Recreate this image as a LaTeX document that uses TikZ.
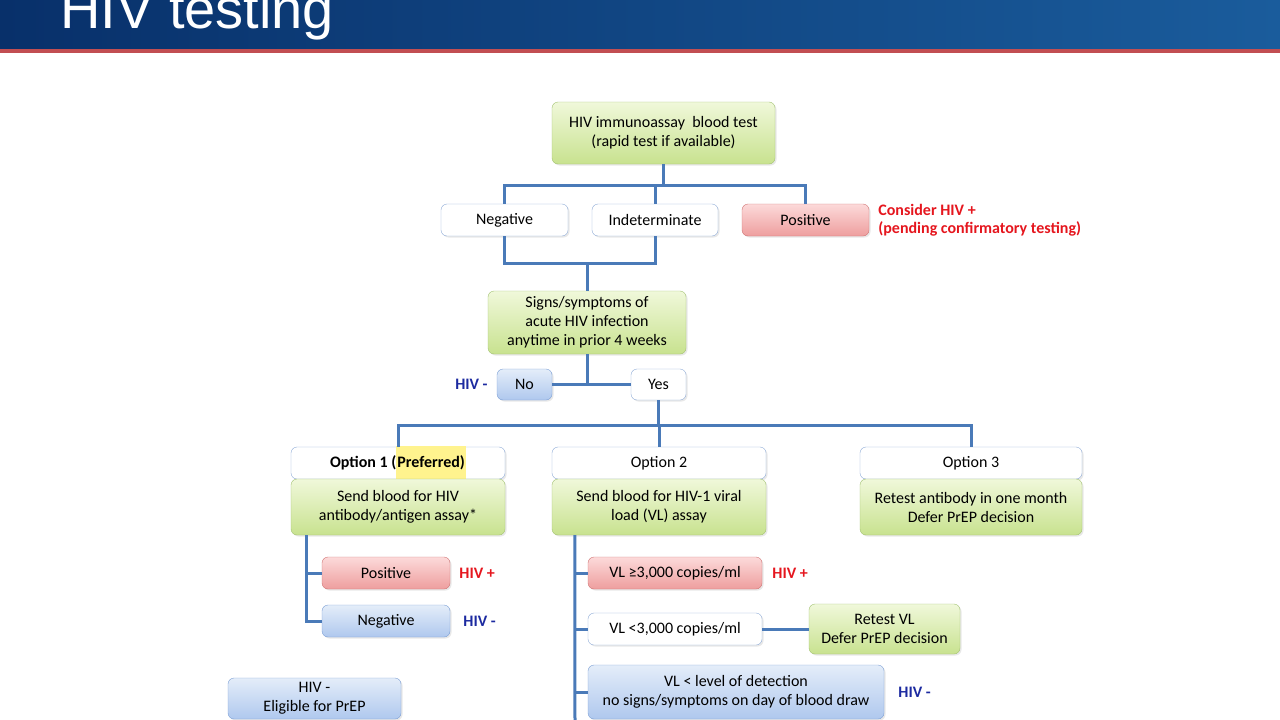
\documentclass[tikz,border=0pt]{standalone}
\usepackage{fontspec}
\setmainfont{Carlito}
\newfontfamily\titlefont{Liberation Sans}
\usetikzlibrary{shadows,positioning}

% Define colors
\definecolor{barleft}{HTML}{08306A}
\definecolor{barright}{HTML}{1A5C9C}
\definecolor{barred}{HTML}{C24E52}
\definecolor{linkblue}{HTML}{4A7AB8}
\definecolor{greenline}{HTML}{A3C273}
\definecolor{greentop}{HTML}{F0F8DA}
\definecolor{greenbot}{HTML}{C8E28F}
\definecolor{redline}{HTML}{CF7474}
\definecolor{redtop}{HTML}{FCDADA}
\definecolor{redbot}{HTML}{EE9E9E}
\definecolor{blueline}{HTML}{7C9FD5}
\definecolor{bluetop}{HTML}{E4EDF9}
\definecolor{bluebot}{HTML}{AFC8EE}
\definecolor{whiteline}{HTML}{8EABD6}
\definecolor{hivred}{HTML}{E5161E}
\definecolor{hivblue}{HTML}{1C2AA0}
\definecolor{hlyellow}{HTML}{FFF38E}

\tikzset{
  box/.style={rounded corners=6pt, inner sep=0pt, align=center, minimum height=32pt,
    font=\fontsize{16}{19}\selectfont,
    drop shadow={shadow xshift=1.5pt, shadow yshift=-1.5pt, opacity=0.18}},
  greenbox/.style={box, draw=greenline, top color=greentop, bottom color=greenbot},
  redbox/.style={box, draw=redline, top color=redtop, bottom color=redbot},
  bluebox/.style={box, draw=blueline, top color=bluetop, bottom color=bluebot},
  whitebox/.style={box, draw=whiteline, fill=white},
  link/.style={draw=linkblue, line width=3pt},
  hivpos/.style={font=\bfseries\fontsize{16}{18}\selectfont, text=hivred, align=left, inner sep=0pt},
  hivneg/.style={font=\bfseries\fontsize{16}{18}\selectfont, text=hivblue, inner sep=0pt},
}

\newcommand\hlpref[1]{\smash{\setlength\fboxsep{1pt}\colorbox{hlyellow}{\rule[-13pt]{0pt}{34pt}#1}}}

\begin{document}
\begin{tikzpicture}[x=1pt, y=-1pt]
    \useasboundingbox (0,0) rectangle (1280,720);
    \clip (0,0) rectangle (1280,720);

    % Title bar
    \shade[left color=barleft, right color=barright] (0,0) rectangle (1280,50);
    \fill[barred] (0,49) rectangle (1280,52.5);
    \node[anchor=base west, inner sep=0pt, text=white,
          font=\titlefont\fontsize{56}{60}\selectfont] (title) at (60,28) {HIV testing};

    % First test and its results
    \node[greenbox, minimum width=223pt, minimum height=62pt] (test) at (663.5,133)
        {HIV immunoassay\ \ blood test\\(rapid test if available)};
    \node[whitebox, minimum width=127pt] (neg) at (504.5,220) {Negative};
    \node[whitebox, minimum width=126pt] (indet) at (655,220) {Indeterminate};
    \node[redbox, minimum width=127pt] (pos) at (805.5,220) {Positive};
    \node[hivpos, right=9pt of pos] (consider) {Consider HIV +\\(pending confirmatory testing)};

    % Acute infection question
    \node[greenbox, minimum width=198pt, minimum height=63pt] (signs) at (587,322.5)
        {Signs/symptoms of\\acute HIV infection\\anytime in prior 4 weeks};
    \node[bluebox, minimum width=55pt, minimum height=31pt] (no) at (524.5,384.5) {No};
    \node[whitebox, minimum width=55pt, minimum height=31pt] (yes) at (658.5,384.5) {Yes};
    \node[hivneg, left=9pt of no] (noneg) {HIV -};

    % Three options
    \node[whitebox, minimum width=214pt] (opt1) at (398,463)
        {\bfseries Option 1 (\hlpref{Preferred)}};
    \node[greenbox, minimum width=214pt, minimum height=56pt] (body1) at (398,507)
        {Send blood for HIV\\antibody/antigen assay*};
    \node[whitebox, minimum width=214pt] (opt2) at (659,463) {Option 2};
    \node[greenbox, minimum width=214pt, minimum height=56pt] (body2) at (659,507)
        {Send blood for HIV-1 viral\\load (VL) assay};
    \node[whitebox, minimum width=222pt] (opt3) at (971,463) {Option 3};
    \node[greenbox, minimum width=222pt, minimum height=56pt] (body3) at (971,507)
        {Retest antibody in one month\\Defer PrEP decision};

    % Option 1 results
    \node[redbox, minimum width=128pt] (p1pos) at (386,573) {Positive};
    \node[bluebox, minimum width=128pt] (p1neg) at (386,621) {Negative};
    \node[hivpos, right=9pt of p1pos] (p1posl) {HIV +};
    \node[hivneg, right=13pt of p1neg] (p1negl) {HIV -};
    \node[bluebox, minimum width=173pt, minimum height=41pt] (elig) at (314.5,698.5)
        {HIV -\\Eligible for PrEP};

    % Option 2 results
    \node[redbox, minimum width=174pt] (vlhi) at (675,573) {VL ≥3,000 copies/ml};
    \node[whitebox, minimum width=174pt] (vllo) at (675,629) {VL <3,000 copies/ml};
    \node[bluebox, minimum width=296pt, minimum height=54pt] (vlund) at (736,692)
        {VL < level of detection\\no signs/symptoms on day of blood draw};
    \node[greenbox, minimum width=151pt, minimum height=50pt] (retest) at (884.5,629)
        {Retest VL\\Defer PrEP decision};
    \node[hivpos, right=10pt of vlhi] (vlhil) {HIV +};
    \node[hivneg, right=14pt of vlund] (vlundl) {HIV -};

    % Connectors
    \coordinate (j1) at (663.5,185);
    \draw[link] (test.south) -- (j1);
    \draw[link] (neg.north) |- (j1) -| (pos.north);
    \draw[link] (indet.north) -- (indet.north |- j1);

    \coordinate (j2) at (587,263);
    \draw[link] (neg.south) |- (j2);
    \draw[link] (indet.south) |- (j2);
    \draw[link] (j2) -- (signs.north);

    \coordinate (j3) at (587,384.5);
    \draw[link] (signs.south) -- (j3);
    \draw[link] (no.east) -- (yes.west);

    \coordinate (j4) at (658.5,425);
    \draw[link] (yes.south) -- (j4);
    \draw[link] (opt1.north) |- (j4) -| (opt3.north);
    \draw[link] (opt2.north) -- (opt2.north |- j4);

    \draw[link] ([xshift=16pt]body1.south west) |- (p1pos.west);
    \draw[link] ([xshift=16pt]body1.south west) |- (p1neg.west);

    \coordinate (s2end) at (575,724);
    \draw[link] ([xshift=23pt]body2.south west) -- (s2end);
    \draw[link] (vlhi.west -| s2end) -- (vlhi.west);
    \draw[link] (vllo.west -| s2end) -- (vllo.west);
    \draw[link] (vlund.west -| s2end) -- (vlund.west);
    \draw[link] (vllo.east) -- (retest.west);
\end{tikzpicture}
\end{document}
